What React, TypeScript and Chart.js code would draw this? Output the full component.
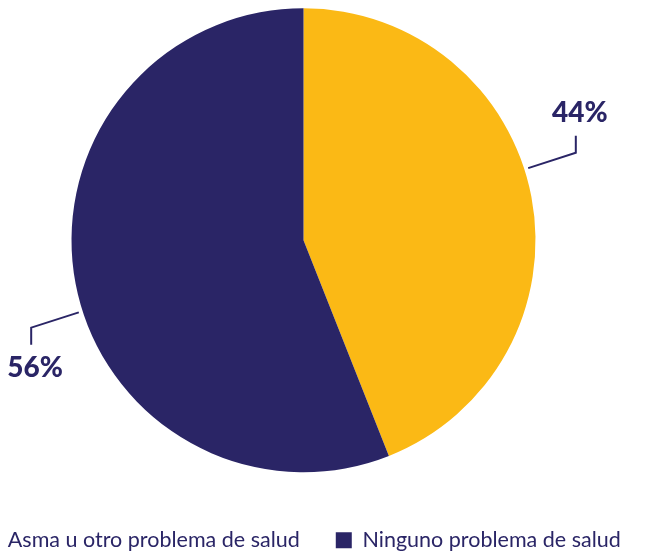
import React, { useEffect, useRef } from "react";
import { Chart, registerables } from "chart.js";

Chart.register(...registerables);

const categories = ["Asma u otro problema de salud", "Ninguno problema de salud"];
const values = [44, 56];
const valueLabels = ["44%", "56%"];
const sliceColors = ["#fbb915", "#2a2566"];

const NAVY = "#2a2566";
const FONT = "Lato";
const LEGEND_SIZE = 21.5;
const LABEL_SIZE = 28;
const BOX = 16;

const leaderPlugin = {
  id: "leaderLabels",
  afterDatasetsDraw(chart: any) {
    const ctx = chart.ctx;
    const meta = chart.getDatasetMeta(0);
    meta.data.forEach((arc: any, i: number) => {
      const { x, y, startAngle, endAngle, outerRadius } = arc.getProps(
        ["x", "y", "startAngle", "endAngle", "outerRadius"],
        true
      );
      const a = (startAngle + endAngle) / 2 - (7 * Math.PI) / 180;
      const c = Math.cos(a);
      const s = Math.sin(a);
      const x0 = x + c * (outerRadius + 4);
      const y0 = y + s * (outerRadius + 4);
      const x1 = x + c * (outerRadius + 54);
      const y1 = y + s * (outerRadius + 54);
      const dir = s < 0 ? -1 : 1;
      const y2 = y1 + dir * 17;
      ctx.save();
      ctx.strokeStyle = NAVY;
      ctx.lineWidth = 2;
      ctx.beginPath();
      ctx.moveTo(x0, y0);
      ctx.lineTo(x1, y1);
      ctx.lineTo(x1, y2);
      ctx.stroke();
      ctx.fillStyle = NAVY;
      ctx.font = `900 ${LABEL_SIZE}px ${FONT}`;
      ctx.textAlign = "center";
      ctx.textBaseline = "middle";
      ctx.fillText(valueLabels[i], x1 + 4, y2 + dir * 23);
      ctx.restore();
    });
  },
};

export default function App() {
  const wrapRef = useRef<HTMLDivElement>(null);
  const canvasRef = useRef<HTMLCanvasElement>(null);

  useEffect(() => {
    document.body.style.margin = "0";
    document.body.style.overflow = "hidden";
    const canvas = canvasRef.current!;
    const wrap = wrapRef.current!;
    const mctx = canvas.getContext("2d")!;
    mctx.font = `${LEGEND_SIZE}px ${FONT}`;
    const tw1 = mctx.measureText(categories[0]).width;
    const textStart = 8;
    const box2Start = 336;
    const pieCenterX = 303.5;
    const pad = box2Start - textStart - tw1;

    // legend aligned to start: first item begins at canvas x = pad
    const L = pad - (textStart - BOX - LEGEND_SIZE / 2);
    const Wc = Math.round(2 * (pieCenterX + L));
    let T = 49.5 - pad;
    let padTop = 0;
    if (T < 0) {
      padTop = -T;
      T = 0;
    }
    T = Math.round(T);
    const Hc = Math.round(560.5 + T);

    wrap.style.left = `${-L}px`;
    wrap.style.top = `${-T}px`;
    canvas.width = Wc;
    canvas.height = Hc;
    canvas.style.width = `${Wc}px`;
    canvas.style.height = `${Hc}px`;

    const chart = new Chart(canvas, {
      type: "pie",
      data: {
        labels: categories,
        datasets: [
          {
            data: values,
            backgroundColor: sliceColors,
            borderWidth: 0,
          },
        ],
      },
      options: {
        responsive: false,
        animation: false,
        radius: 232,
        layout: { padding: { top: padTop, left: 0, right: 0, bottom: 0 } },
        plugins: {
          tooltip: { enabled: false },
          legend: {
            position: "bottom",
            align: "start",
            labels: {
              boxWidth: BOX,
              boxHeight: BOX,
              padding: pad,
              color: NAVY,
              font: { family: FONT, size: LEGEND_SIZE },
            },
          },
        },
      } as any,
      plugins: [leaderPlugin],
    });
    return () => chart.destroy();
  }, []);

  return (
    <div ref={wrapRef} style={{ position: "absolute", left: 0, top: 0 }}>
      <canvas ref={canvasRef} />
    </div>
  );
}
